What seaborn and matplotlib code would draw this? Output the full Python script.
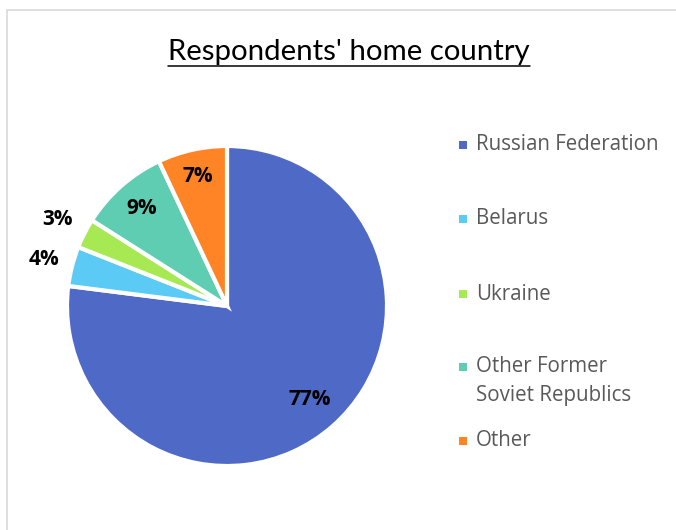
import matplotlib
matplotlib.use("Agg")
import matplotlib.pyplot as plt
import seaborn as sns
import numpy as np
from matplotlib.patches import Rectangle
from matplotlib.lines import Line2D

categories = ["Russian Federation", "Belarus", "Ukraine",
              "Other Former\nSoviet Republics", "Other"]
values = [77, 4, 3, 9, 7]
colors = ["#4F69C6", "#5BCBF5", "#A6E952", "#5ECDB1", "#FF8426"]
label_radius = [0.78, 1.18, 1.19, 0.81, 0.83]

sns.set_theme(style="white")
plt.rcParams["font.family"] = ["Open Sans", "DejaVu Sans"]

W, H = 676, 530
fig = plt.figure(figsize=(W / 100, H / 100), dpi=100)
fig.patch.set_facecolor("white")

# chart frame (light gray border)
fig.patches.append(Rectangle((7 / W, -0.05), 1.2, 1 - 10 / H + 0.05,
                             transform=fig.transFigure, fill=False,
                             edgecolor="#D9D9D9", linewidth=1.2))

cx, cy, R = 227, 306, 160
ax = fig.add_axes([(cx - R) / W, (H - cy - R) / H, 2 * R / W, 2 * R / H])
wedges, _ = ax.pie(values, colors=colors, startangle=90, counterclock=False,
                   radius=1.0,
                   wedgeprops=dict(edgecolor="white", linewidth=3))
ax.set_xlim(-1, 1)
ax.set_ylim(-1, 1)
ax.set_aspect("equal")
ax.axis("off")

total = sum(values)
for w, v, rf in zip(wedges, values, label_radius):
    mid = np.deg2rad((w.theta1 + w.theta2) / 2)
    ax.text(rf * np.cos(mid), rf * np.sin(mid), f"{round(100 * v / total)}%",
            ha="center", va="center", fontsize=15, fontweight="bold",
            color="black", family=["Open Sans", "DejaVu Sans"], clip_on=False)

# title
title = fig.text(349 / W, 1 - 52 / H, "Respondents' home country",
                 ha="center", va="center", fontsize=21.2, color="black",
                 family=["Lato", "DejaVu Sans"])

# legend (manual, matching spacing)
leg_y = [145, 219, 294, 367, 441]
for name, col, y in zip(categories, colors, leg_y):
    s = 8
    fig.patches.append(Rectangle((459 / W, 1 - (y + s / 2) / H), s / W, s / H,
                                 transform=fig.transFigure, facecolor=col,
                                 edgecolor="none"))
    for i, ln in enumerate(name.split("\n")):
        fig.text(476 / W, 1 - (y + i * 28) / H, ln, ha="left", va="center",
                 fontsize=14.8, color="#595959",
                 family=["Open Sans", "DejaVu Sans"])

fig.canvas.draw()
bb = title.get_window_extent()
x0, x1 = bb.x0 / W, bb.x1 / W
uy = 1 - 66 / H
fig.lines.append(Line2D([x0, x1], [uy, uy], transform=fig.transFigure,
                        color="black", linewidth=1.1))

fig.savefig("out.png", dpi=100, facecolor="white")
